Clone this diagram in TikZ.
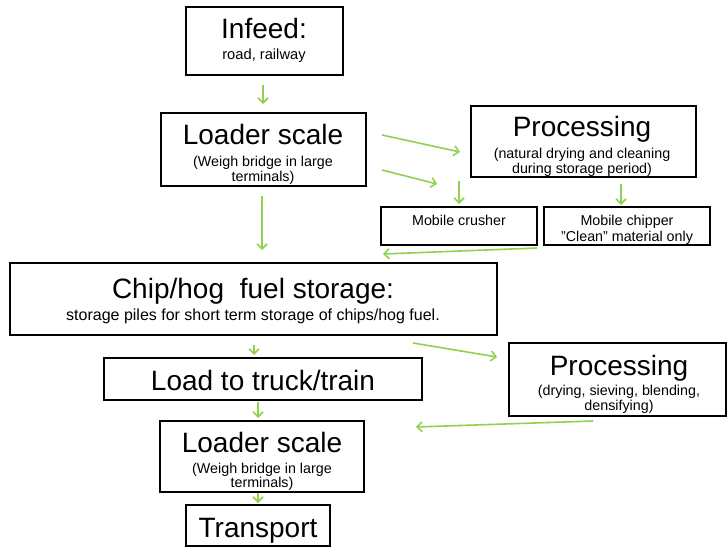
\documentclass[tikz,border=0pt]{standalone}
\usepackage{fontspec}
\setmainfont{Liberation Sans}
\usetikzlibrary{arrows.meta,calc}
\definecolor{arrgreen}{HTML}{92D050}
\begin{document}
\begin{tikzpicture}[x=1pt,y=-1pt,
  box/.style={draw=black,line width=1.5pt,inner sep=0pt,outer sep=0pt},
  ttl/.style={font=\fontsize{28}{30}\selectfont,anchor=base,inner sep=0pt},
  sub/.style={font=\fontsize{14.3}{16}\selectfont,anchor=base,inner sep=0pt},
  arr/.style={draw=arrgreen,line width=1.6pt,-{Straight Barb[length=5pt,width=10pt]}}]
\useasboundingbox[fill=white] (0,0) rectangle (727,548);
% boxes
\node[box,minimum width=157pt,minimum height=68pt] (infeed) at (264.5,41) {};
\node[box,minimum width=205pt,minimum height=73pt] (loader1) at (263.5,149.5) {};
\node[box,minimum width=225pt,minimum height=71pt] (proc1) at (583.5,141.5) {};
\node[box,minimum width=156pt,minimum height=38pt] (crusher) at (459,226) {};
\node[box,minimum width=166pt,minimum height=38pt] (chipper) at (627,226) {};
\node[box,minimum width=487pt,minimum height=72pt] (storage) at (253.5,299) {};
\node[box,minimum width=318pt,minimum height=42pt] (load) at (263,379) {};
\node[box,minimum width=217pt,minimum height=73pt] (proc2) at (617.5,379.5) {};
\node[box,minimum width=204pt,minimum height=71pt] (loader2) at (262,456.5) {};
\node[box,minimum width=144pt,minimum height=41pt] (transport) at (258,525.5) {};
% texts
\node[ttl] (infeedT) at (264,39) {Infeed:};
\node[sub,font=\fontsize{14.7}{16}\selectfont] (infeedS) at (264,60) {road, railway};
\node[ttl] (loader1T) at (263,145) {Loader scale};
\node[sub] (loader1S) at (263,166) {(Weigh bridge in large};
\node[sub] (loader1S2) at (263,182) {terminals)};
\node[ttl] (proc1T) at (582,137) {Processing};
\node[sub] (proc1S) at (582,158) {(natural drying and cleaning};
\node[sub] (proc1S2) at (582,173) {during storage period)};
\node[sub] (crusherT) at (459,225) {Mobile crusher};
\node[sub] (chipperT) at (627,225) {Mobile chipper};
\node[sub] (chipperS) at (627,241) {”Clean” material only};
\node[ttl] (storageT) at (253,298) {Chip/hog\hspace{8pt} fuel storage:};
\node[sub,font=\fontsize{16}{18}\selectfont] (storageS) at (253,320) {storage piles for short term storage of chips/hog fuel.};
\node[ttl] (loadT) at (263,390) {Load to truck/train};
\node[ttl] (proc2T) at (619,375) {Processing};
\node[sub] (proc2S) at (619,395) {(drying, sieving, blending,};
\node[sub] (proc2S2) at (619,410) {densifying)};
\node[ttl] (loader2T) at (262,452) {Loader scale};
\node[sub] (loader2S) at (262,473) {(Weigh bridge in large};
\node[sub] (loader2S2) at (262,487) {terminals)};
\node[ttl] (transportT) at (258,537) {Transport};
% connectors
\draw[arr] ($(infeed.south)+(-1.5,10)$) -- ($(loader1.north)+(-0.5,-9)$);
\draw[arr] ($(loader1.east)+(16,-14.5)$) -- ($(proc1.west)+(-11,10.5)$);
\draw[arr] ($(loader1.east)+(16,20.5)$) -- ($(crusher.north)+(-22,-23)$);
\draw[arr] ($(crusher.north)+(0,-26)$) -- ($(crusher.north)+(0,-3)$);
\draw[arr] ($(proc1.south)+(37.5,7)$) -- ($(chipper.north)+(-6,-2)$);
\draw[arr] ($(chipper.south west)+(-7,3)$) -- ($(crusher.south west)+(2,9)$);
\draw[arr] ($(loader1.south)+(-1.5,10)$) -- ($(storage.north)+(8.5,-13)$);
\draw[arr] ($(storage.south)+(0.5,10)$) -- ($(load.north)+(-9,-3)$);
\draw[arr] ($(storage.south east)+(-84,8)$) -- ($(proc2.west)+(-12,-22.5)$);
\draw[arr] ($(proc2.south)+(-24.5,5)$) -- ($(load.south east)+(-6,27)$);
\draw[arr] ($(load.south)+(-5,2)$) -- ($(loader2.north)+(-4,-3)$);
\draw[arr] ($(loader2.south)+(-4,1)$) -- ($(transport.north)+(0,-2)$);
\end{tikzpicture}
\end{document}
